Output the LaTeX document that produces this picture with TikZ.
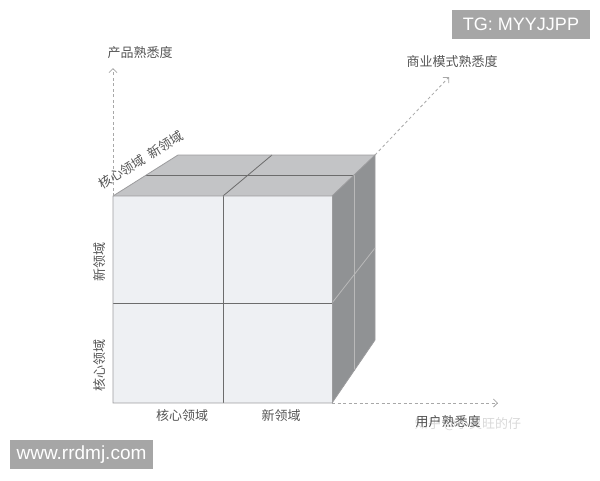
\documentclass[tikz,border=0pt]{standalone}
\usepackage{fontspec}
\usepackage{tikz}
\usetikzlibrary{arrows.meta}
\newfontfamily\cjk{Noto Sans CJK SC}
\newfontfamily\wmfont{Liberation Sans}
\definecolor{facefront}{HTML}{EEF0F3}
\definecolor{facetop}{HTML}{C3C4C6}
\definecolor{faceside}{HTML}{909294}
\definecolor{edgegray}{HTML}{9C9C9E}
\definecolor{axisgray}{HTML}{A8A8A8}
\definecolor{labelgray}{HTML}{555555}
\definecolor{markgray}{HTML}{A6A6A6}

\begin{document}
\begin{tikzpicture}[x=1pt,y=-1pt]
        \useasboundingbox (0,0) rectangle (600,480);
        \tikzstyle{axis} = [draw=axisgray, line width=0.8pt, dash pattern=on 3pt off 2.5pt, -{Straight Barb[length=4pt,width=8pt]}]
        \tikzstyle{edge} = [draw=edgegray, line width=0.8pt]
        \tikzstyle{label} = [font=\cjk\fontsize{13}{13}\selectfont, text=labelgray, inner sep=0pt]
        \tikzstyle{stamp} = [fill=markgray, text=white, font=\wmfont\fontsize{18}{18}\selectfont, inner sep=0pt]
        % cube corners
        \coordinate (ftl) at (113,196);
        \coordinate (ftr) at (332,196);
        \coordinate (fbr) at (332,403);
        \coordinate (fbl) at (113,403);
        \coordinate (btl) at (178,155);
        \coordinate (btr) at (375,155);
        \coordinate (bbr) at (375,340);
        % faces
        \fill[facetop] (ftl) -- (btl) -- (btr) -- (ftr) -- cycle;
        \fill[faceside] (ftr) -- (btr) -- (bbr) -- (fbr) -- cycle;
        \fill[facefront] (ftl) rectangle (fbr);
        % grid lines
        \coordinate (fmt) at (223,196);
        \coordinate (fmb) at (223,403);
        \coordinate (fml) at (113,303);
        \coordinate (fmr) at (332,303);
        \coordinate (tmb) at (272,155);
        \coordinate (tdl) at (145,175);
        \coordinate (tdr) at (354,175);
        \coordinate (sdb) at (354,371);
        \coordinate (smb) at (375,248);
        \foreach \from/\to in {fmt/fmb, fml/fmr, fmt/tmb, tdl/tdr}
            \draw[edge, draw=gray!85!black] (\from) -- (\to);
        \foreach \from/\to in {tdr/sdb, fmr/smb}
            \draw[edge, draw=gray!55] (\from) -- (\to);
        \draw[edge] (ftl) -- (btl) -- (btr) -- (bbr) -- (fbr) -- (fbl) -- cycle;
        \draw[edge] (ftl) -- (ftr) -- (btr);
        \draw[edge] (ftr) -- (fbr);
        % axes
        \coordinate (yend) at (113,68);
        \coordinate (xend) at (498,403);
        \coordinate (zend) at (449,77);
        \draw[axis] (ftl) -- (yend);
        \draw[axis] (fbr) -- (xend);
        \draw[axis] (btr) -- (zend);
        % labels
        \node[label, text=black!15] (zhihu) at (468,424) {知乎 @小灵旺的仔};
        \node[label] (prod) at (140,53) {产品熟悉度};
        \node[label] (biz) at (452,62) {商业模式熟悉度};
        \node[label] (user) at (448,422) {用户熟悉度};
        \node[label] (xcore) at (182,416) {核心领域};
        \node[label] (xnew) at (281,416) {新领域};
        \node[label, rotate=90] (ynew) at (100,262) {新领域};
        \node[label, rotate=90] (ycore) at (100,365) {核心领域};
        \node[label, rotate=32] (zcore) at (141,160) {核心领域\ \ 新领域};
        % stamps
        \node[stamp, minimum width=138pt, minimum height=29pt] (tg) at (521,24.5) {TG: MYYJJPP};
        \node[stamp, minimum width=143pt, minimum height=29pt, font=\wmfont\fontsize{19}{19}\selectfont] (site) at (81.5,454.5) {www.rrdmj.com};
    \end{tikzpicture}
\end{document}
